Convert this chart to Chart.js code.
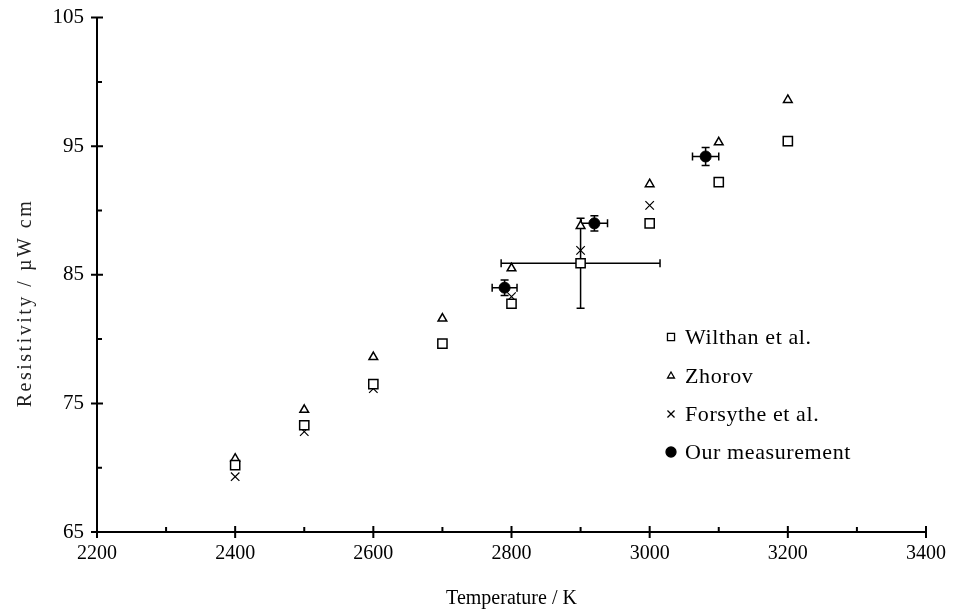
<!DOCTYPE html>
<html>
<head>
<meta charset="utf-8">
<script src="https://cdn.jsdelivr.net/npm/chart.js@4"></script>
<style>
  html, body { margin: 0; padding: 0; background: #fff; }
  #box { width: 966px; height: 611px; }
</style>
</head>
<body>
<div id="box"><canvas id="chart"></canvas></div>
<script>
const temps = [2400, 2500, 2600, 2700, 2800, 2900, 3000, 3100, 3200];
const wilthan = [70.2, 73.3, 76.5, 79.65, 82.75, 85.9, 89.0, 92.2, 95.4];
const zhorov = [70.7, 74.5, 78.6, 81.6, 85.5, 88.8, 92.05, 95.3, 98.6];

const forsytheTemps = [2400, 2500, 2600, 2700, 2800, 2900, 3000];
const forsythe = [69.3, 72.8, 76.15, 79.65, 83.3, 86.9, 90.4];

const ourTemps = [2790, 2920, 3081];
const ourValues = [84.0, 89.0, 94.2];
const ourTempErr = [18, 19, 19];
const ourValueErr = [0.6, 0.6, 0.7];

// only the 2900 K Wilthan point carries error bars
const wilthanErrTemp = 2900;
const wilthanTempErr = 115;
const wilthanValueErr = 3.5;

const xTicks = [2200, 2400, 2600, 2800, 3000, 3200, 3400];
const xMinor = [2300, 2500, 2700, 2900, 3100, 3300];
const yTicks = [65, 75, 85, 95, 105];
const yMinor = [70, 80, 90, 100];

const legendNames = ["Wilthan et al.", "Zhorov", "Forsythe et al.", "Our measurement"];
const yTitle = "Resistivity / µW cm";

const font = "'Liberation Serif', 'Times New Roman', serif";

function pts(xs, ys) {
    return xs.map((x, i) => ({ x: x, y: ys[i] }));
}

const errorBars = {
    id: "errorBars",
    beforeDatasetsDraw(chart) {
        const ctx = chart.ctx;
        const xs = chart.scales.x;
        const ys = chart.scales.y;

        function bar(x, y, dx, dy, cap) {
            const px = xs.getPixelForValue(x);
            const py = ys.getPixelForValue(y);
            const x0 = xs.getPixelForValue(x - dx);
            const x1 = xs.getPixelForValue(x + dx);
            const y0 = ys.getPixelForValue(y - dy);
            const y1 = ys.getPixelForValue(y + dy);
            ctx.beginPath();
            ctx.moveTo(x0, py); ctx.lineTo(x1, py);
            ctx.moveTo(x0, py - cap); ctx.lineTo(x0, py + cap);
            ctx.moveTo(x1, py - cap); ctx.lineTo(x1, py + cap);
            ctx.moveTo(px, y0); ctx.lineTo(px, y1);
            ctx.moveTo(px - cap, y0); ctx.lineTo(px + cap, y0);
            ctx.moveTo(px - cap, y1); ctx.lineTo(px + cap, y1);
            ctx.stroke();
        }

        ctx.save();
        ctx.strokeStyle = "#000";
        ctx.lineWidth = 1.5;
        const wi = temps.indexOf(wilthanErrTemp);
        bar(wilthanErrTemp, wilthan[wi], wilthanTempErr, wilthanValueErr, 4);
        ourTemps.forEach((t, i) => {
            bar(t, ourValues[i], ourTempErr[i], ourValueErr[i], 4);
        });
        ctx.restore();
    }
};

const axesAndLegend = {
    id: "axesAndLegend",
    afterDraw(chart) {
        const ctx = chart.ctx;
        const xs = chart.scales.x;
        const ys = chart.scales.y;
        const left = xs.getPixelForValue(2200);
        const right = xs.getPixelForValue(3400);
        const top = ys.getPixelForValue(105);
        const bottom = ys.getPixelForValue(65);

        ctx.save();
        ctx.strokeStyle = "#000";
        ctx.lineWidth = 2;
        ctx.beginPath();
        ctx.moveTo(left, top); ctx.lineTo(left, bottom); ctx.lineTo(right, bottom);
        ctx.stroke();

        ctx.beginPath();
        xTicks.forEach(v => {
            const p = xs.getPixelForValue(v);
            ctx.moveTo(p, bottom - 6); ctx.lineTo(p, bottom + 6);
        });
        xMinor.forEach(v => {
            const p = xs.getPixelForValue(v);
            ctx.moveTo(p, bottom); ctx.lineTo(p, bottom - 5);
        });
        yTicks.forEach(v => {
            const p = ys.getPixelForValue(v);
            ctx.moveTo(left - 6, p); ctx.lineTo(left + 6, p);
        });
        yMinor.forEach(v => {
            const p = ys.getPixelForValue(v);
            ctx.moveTo(left, p); ctx.lineTo(left + 5, p);
        });
        ctx.stroke();

        // y axis title, spaced out like the original
        ctx.save();
        ctx.translate(26, 303);
        ctx.rotate(-Math.PI / 2);
        ctx.font = "20px " + font;
        ctx.letterSpacing = "2.5px";
        ctx.fillStyle = "#222";
        ctx.textAlign = "center";
        ctx.textBaseline = "middle";
        ctx.fillText(yTitle, 0, 0);
        ctx.restore();

        // legend
        const lx = 671;
        const ly = [337, 376, 414, 452];
        ctx.font = "22px " + font;
        ctx.letterSpacing = "0.6px";
        ctx.textBaseline = "middle";
        chart.data.datasets.forEach((ds, i) => {
            ctx.lineWidth = 1.3;
            ctx.strokeStyle = "#000";
            ctx.fillStyle = i === 3 ? "#000" : "#fff";
            const r = i === 1 ? 4 : 5;
            Chart.helpers.drawPoint(ctx, { pointStyle: ds.pointStyle, radius: r, borderWidth: 1.3 }, lx, ly[i]);
            ctx.fillStyle = "#000";
            ctx.fillText(legendNames[i], lx + 14, ly[i] + 1);
        });
        ctx.restore();
    }
};

new Chart(document.getElementById("chart"), {
    type: "scatter",
    data: {
        datasets: [
            {
                label: legendNames[0],
                data: pts(temps, wilthan),
                pointStyle: "rect",
                pointRadius: 6.5,
                pointBorderWidth: 1.5,
                borderColor: "#000",
                backgroundColor: "#fff"
            },
            {
                label: legendNames[1],
                data: pts(temps, zhorov),
                pointStyle: "triangle",
                pointRadius: 5,
                pointBorderWidth: 1.5,
                borderColor: "#000",
                backgroundColor: "#fff"
            },
            {
                label: legendNames[2],
                data: pts(forsytheTemps, forsythe),
                pointStyle: "crossRot",
                pointRadius: 6,
                pointBorderWidth: 1.2,
                borderColor: "#000",
                backgroundColor: "#000"
            },
            {
                label: legendNames[3],
                data: pts(ourTemps, ourValues),
                pointStyle: "circle",
                pointRadius: 5.5,
                pointBorderWidth: 1,
                borderColor: "#000",
                backgroundColor: "#000"
            }
        ]
    },
    options: {
        responsive: true,
        maintainAspectRatio: false,
        animation: false,
        layout: { padding: { top: 10, right: 40, left: 0, bottom: 0 } },
        plugins: {
            legend: { display: false },
            tooltip: { enabled: false }
        },
        scales: {
            x: {
                type: "linear",
                min: 2200,
                max: 3400,
                afterBuildTicks: s => { s.ticks = xTicks.map(v => ({ value: v })); },
                afterFit: s => { s.height = 79; },
                grid: { display: false },
                border: { display: false },
                ticks: {
                    color: "#000",
                    padding: 2,
                    font: { family: font, size: 20 },
                    callback: v => String(v)
                },
                title: {
                    display: true,
                    text: "Temperature / K",
                    color: "#000",
                    padding: { top: 2, bottom: 0 },
                    font: { family: font, size: 20 }
                }
            },
            y: {
                type: "linear",
                min: 65,
                max: 105,
                afterBuildTicks: s => { s.ticks = yTicks.map(v => ({ value: v })); },
                afterFit: s => { s.width = 97; },
                grid: { display: false },
                border: { display: false },
                ticks: {
                    color: "#000",
                    padding: 5,
                    font: { family: font, size: 21 },
                    callback: v => String(v)
                },
                title: { display: false }
            }
        }
    },
    plugins: [errorBars, axesAndLegend]
});
</script>
</body>
</html>
